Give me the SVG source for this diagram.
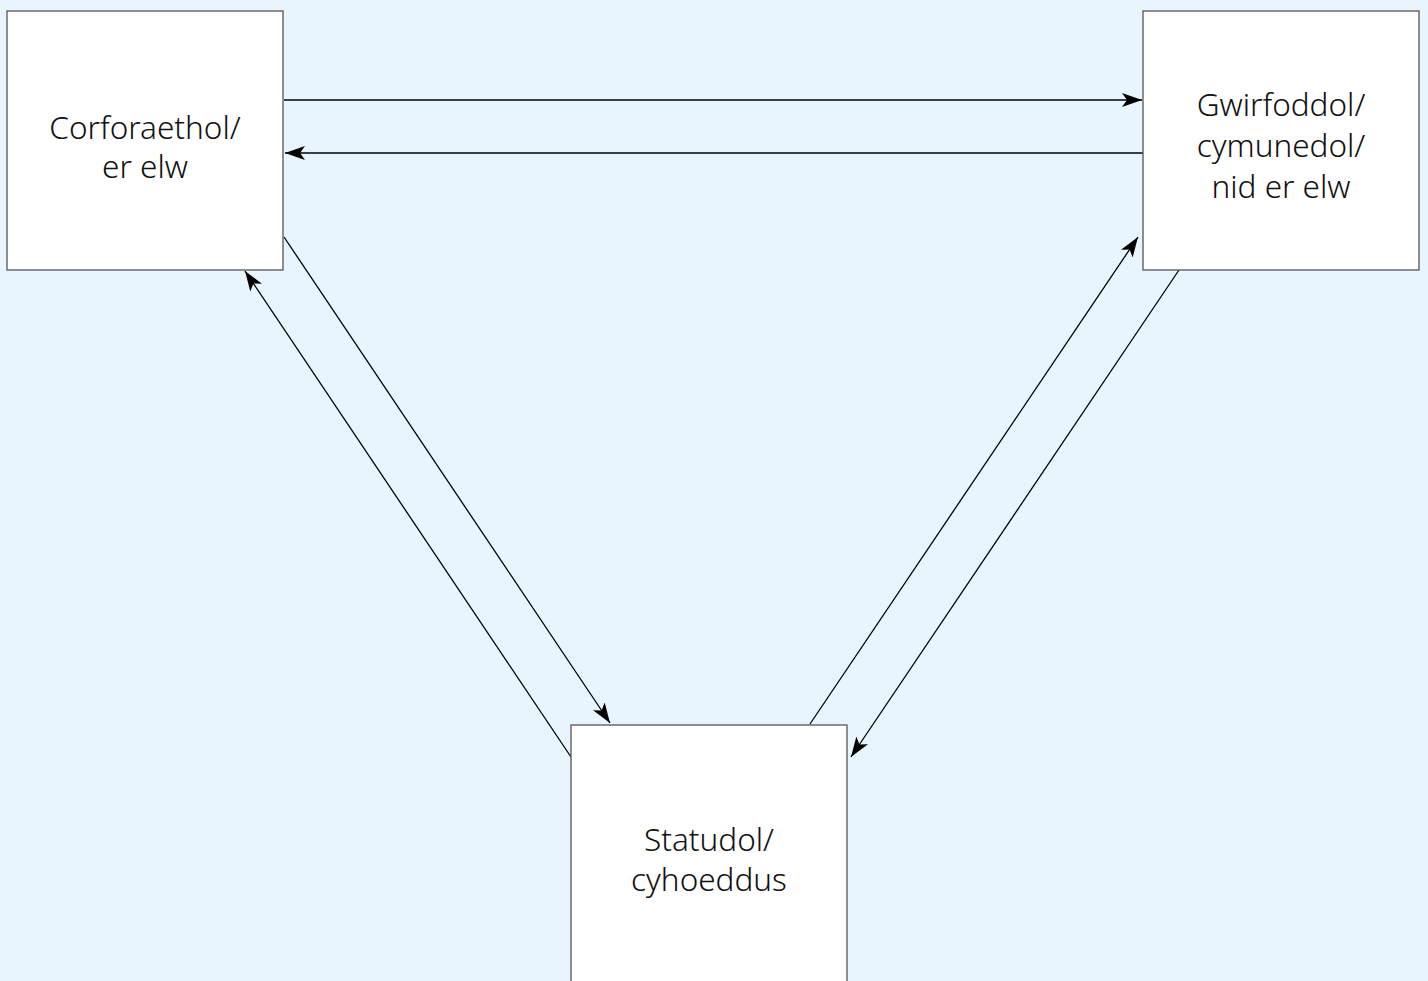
<svg xmlns="http://www.w3.org/2000/svg" width="1428" height="981" viewBox="0 0 1428 981">
<style>
.box{fill:#ffffff;stroke:#555555;stroke-width:1.3}
.lbl{font-family:"Noto Sans","Open Sans","Liberation Sans",sans-serif;font-weight:300;font-size:31.5px;fill:#111111;text-anchor:middle}
.con{stroke:#000;stroke-width:1.3;fill:none;marker-end:url(#ah)}
</style>
<defs>
<marker id="ah" viewBox="0 0 20 14" refX="20" refY="7" markerWidth="20" markerHeight="14" markerUnits="userSpaceOnUse" orient="auto">
<path d="M0,0 L20,7 L0,14 L5,7 Z" fill="#000"/>
</marker>
</defs>
<rect x="0" y="0" width="1428" height="981" fill="#e8f5fe"/>
<g id="connectors">
<line class="con" x1="284" y1="100" x2="1142" y2="100"/>
<line class="con" x1="1143" y1="153" x2="285" y2="153"/>
<line class="con" x1="284" y1="237" x2="610" y2="723"/>
<line class="con" x1="571" y1="757" x2="245" y2="271"/>
<line class="con" x1="810" y1="724" x2="1138" y2="237"/>
<line class="con" x1="1179" y1="270" x2="851" y2="757"/>
</g>
<g id="node-corfforaethol">
<rect class="box" x="7" y="11" width="276" height="259"/>
<text class="lbl" x="145" y="139">Corforaethol/</text>
<text class="lbl" x="145" y="178">er elw</text>
</g>
<g id="node-gwirfoddol">
<rect class="box" x="1143" y="11" width="276" height="259"/>
<text class="lbl" x="1281" y="116">Gwirfoddol/</text>
<text class="lbl" x="1281" y="157">cymunedol/</text>
<text class="lbl" x="1281" y="198">nid er elw</text>
</g>
<g id="node-statudol">
<rect class="box" x="571" y="725" width="276" height="270"/>
<text class="lbl" x="709" y="851">Statudol/</text>
<text class="lbl" x="709" y="891">cyhoeddus</text>
</g>
</svg>
